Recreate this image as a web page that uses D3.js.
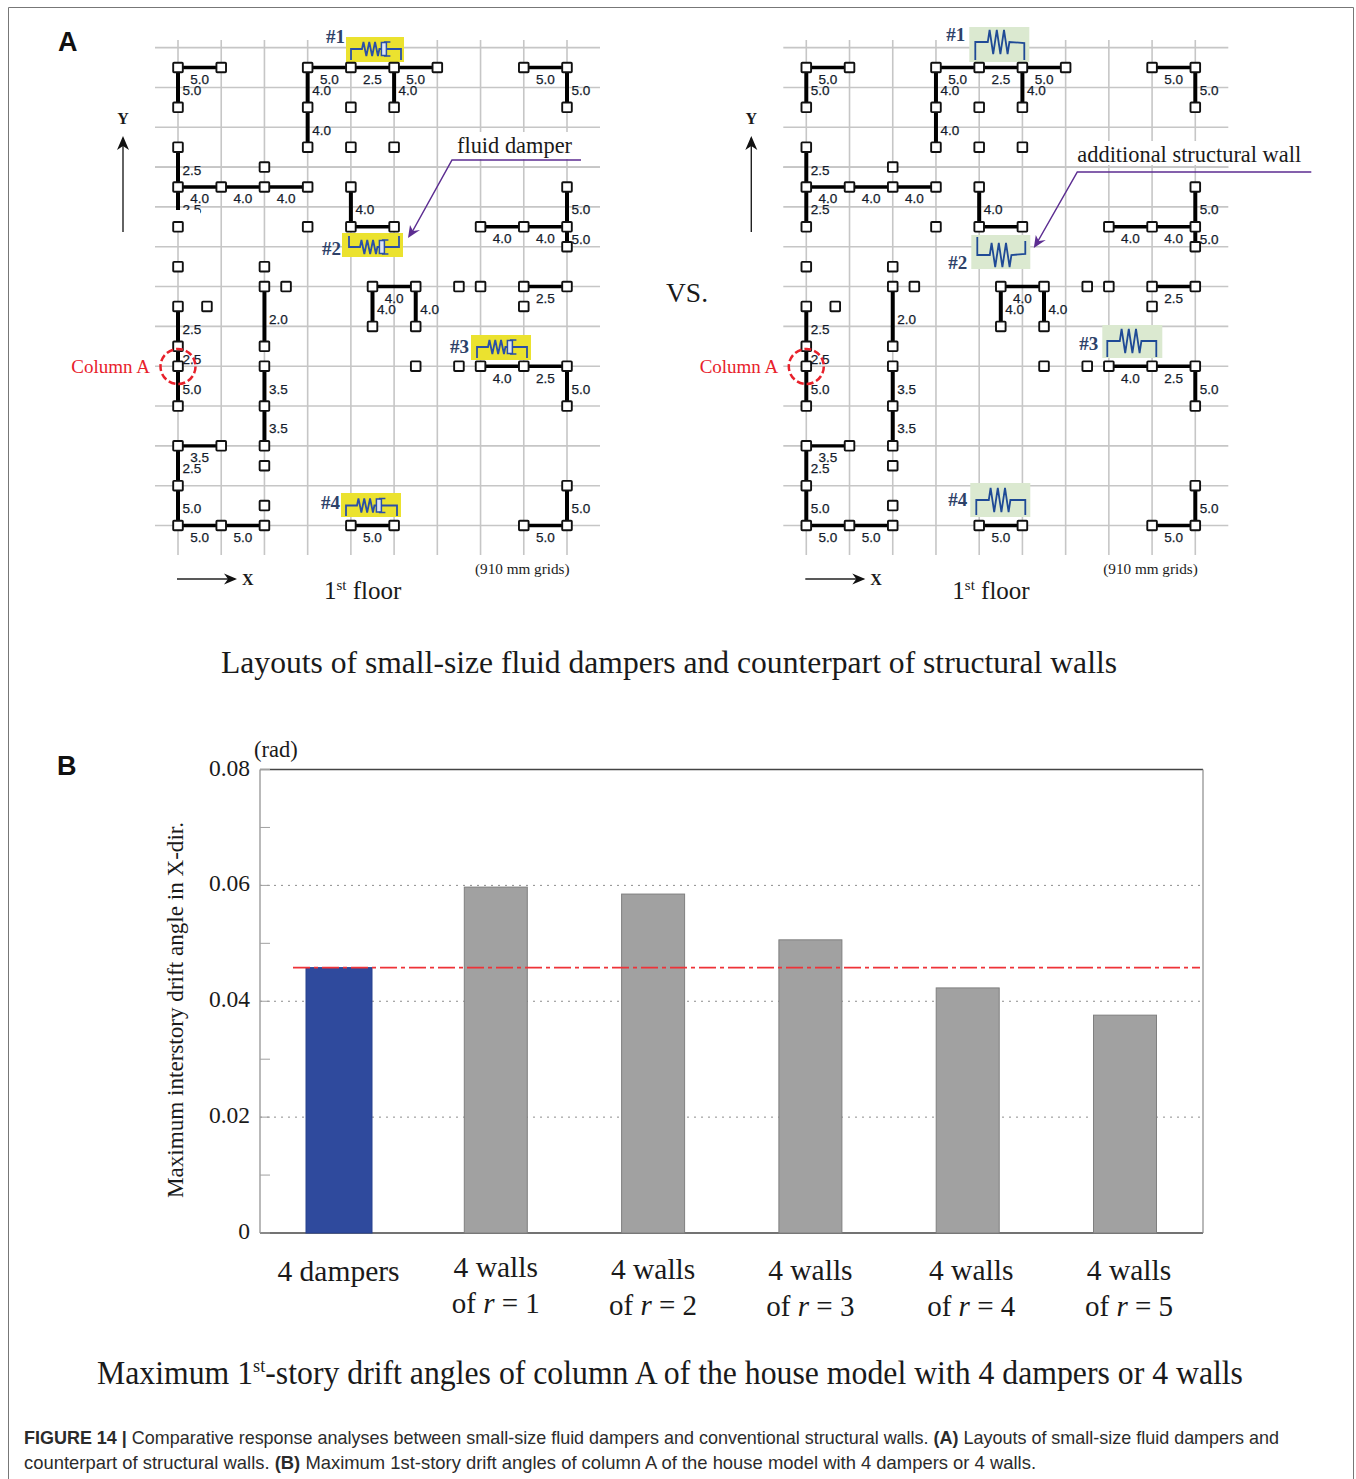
<!DOCTYPE html>
<html>
<head>
<meta charset="utf-8">
<script src="https://cdn.jsdelivr.net/npm/d3@7"></script>
<style>
body { margin: 0; background: #fff; }
svg { display: block; }
text { font-family: "Liberation Serif", serif; fill: #1a1a1a; }
</style>
</head>
<body>
<div id="chart"></div>
<script>
// bar chart values (panel B)
var categories = ["4 dampers", "of r = 1", "of r = 2", "of r = 3", "of r = 4", "of r = 5"];
var driftValues = [0.0458, 0.0597, 0.0585, 0.0506, 0.0423, 0.0376];
var referenceDrift = 0.0458;
var yTicksMajor = [0, 0.02, 0.04, 0.06, 0.08];
var yTickLabels = ["0", "0.02", "0.04", "0.06", "0.08"];
var yTicksMinor = [0.01, 0.03, 0.05, 0.07];

// floor plan (panel A), in grid units: column, row
var planColumns = d3.range(0, 10);
var planRows = d3.range(0, 13);
var planNodes = [
  [0,.5],[1,.5],[3,.5],[4,.5],[5,.5],[6,.5],[8,.5],[9,.5],
  [0,1.5],[3,1.5],[4,1.5],[5,1.5],[9,1.5],
  [0,2.5],[3,2.5],[4,2.5],[5,2.5],
  [2,3],
  [0,3.5],[1,3.5],[2,3.5],[3,3.5],[4,3.5],[9,3.5],
  [0,4.5],[3,4.5],[4,4.5],[5,4.5],[7,4.5],[8,4.5],[9,4.5],
  [9,5],
  [0,5.5],[2,5.5],
  [2,6],[2.5,6],[4.5,6],[5.5,6],[6.5,6],[7,6],[8,6],[9,6],
  [0,6.5],[0.67,6.5],[8,6.5],
  [4.5,7],[5.5,7],
  [0,7.5],[2,7.5],
  [0,8],[2,8],[5.5,8],[6.5,8],[7,8],[8,8],[9,8],
  [0,9],[2,9],[9,9],
  [0,10],[1,10],[2,10],
  [2,10.5],
  [0,11],[9,11],
  [2,11.5],
  [0,12],[1,12],[2,12],[4,12],[5,12],[8,12],[9,12]
];
// from column, from row, to column, to row, wall ratio
var planWalls = [
  [0,.5,1,.5,"5.0"],[0,.5,0,1.5,"5.0"],
  [3,.5,4,.5,"5.0"],[4,.5,5,.5,"2.5"],[5,.5,6,.5,"5.0"],
  [3,.5,3,1.5,"4.0"],[3,1.5,3,2.5,"4.0"],[5,.5,5,1.5,"4.0"],
  [8,.5,9,.5,"5.0"],[9,.5,9,1.5,"5.0"],
  [0,2.5,0,3.5,"2.5"],[0,3.5,0,4.5,"2.5"],
  [0,3.5,1,3.5,"4.0"],[1,3.5,2,3.5,"4.0"],[2,3.5,3,3.5,"4.0"],
  [4,3.5,4,4.5,"4.0"],[4,4.5,5,4.5,null],
  [9,3.5,9,4.5,"5.0"],[9,4.5,9,5,"5.0"],
  [7,4.5,8,4.5,"4.0"],[8,4.5,9,4.5,"4.0"],
  [4.5,6,5.5,6,"4.0"],[4.5,6,4.5,7,"4.0"],[5.5,6,5.5,7,"4.0"],
  [8,6,9,6,"2.5"],[2,6,2,7.5,"2.0"],
  [0,6.5,0,7.5,"2.5"],[0,7.5,0,8,"2.5"],[0,8,0,9,"5.0"],
  [2,8,2,9,"3.5"],[2,9,2,10,"3.5"],
  [0,10,1,10,"3.5"],[0,10,0,11,"2.5"],[0,11,0,12,"5.0"],
  [0,12,1,12,"5.0"],[1,12,2,12,"5.0"],
  [4,12,5,12,"5.0"],[8,12,9,12,"5.0"],[9,11,9,12,"5.0"],
  [7,8,8,8,"4.0"],[8,8,9,8,"2.5"],[9,8,9,9,"5.0"]
];

var svg = d3.select("#chart").append("svg")
  .attr("width", 1356)
  .attr("height", 1479);

// page frame
svg.append("path")
  .attr("d", "M8.5,1479V7.5H1353.5V1479")
  .attr("fill", "none")
  .attr("stroke", "#777")
  .attr("stroke-width", 1);

var serif = function(sel, x, y, txt, size, anchor) {
  return sel.append("text")
    .attr("x", x).attr("y", y)
    .attr("font-size", size)
    .attr("text-anchor", anchor || "start")
    .text(txt);
};

var sansBold = function(x, y, txt) {
  svg.append("text").attr("x", x).attr("y", y)
    .attr("font-size", 27)
    .style("font-family", "'Liberation Sans', sans-serif")
    .style("font-weight", "bold")
    .style("fill", "#111")
    .text(txt);
};
sansBold(58, 51, "A");
sansBold(57, 775, "B");

// ---------- panel A ----------
var colX = d3.scaleLinear().domain([0, 9]).range([178, 567]);
var rowY = d3.scaleLinear().domain([0, 12]).range([47.6, 525.5]);
var zigLine = d3.line();

// spring, optionally followed by a dashpot
var symbol = function(g, s, color, hasPot) {
  var x0 = s.left, x1 = s.right, y = s.y;
  g.append("rect")
    .attr("x", s.box[0]).attr("y", s.box[1])
    .attr("width", s.box[2]).attr("height", s.box[3])
    .attr("fill", hasPot ? "#ebe22f" : "#dbe9d0");
  var start = x0 + (hasPot ? 11 : 12.5);
  var amp = hasPot ? 7 : 12;
  var pitch = hasPot ? 2.9 : 3.6;
  var pts = [[x0, s.end], [x0, y], [start, y]];
  for (var i = 0; i < 6; i++) {
    pts.push([start + pitch * (i + 0.5), y + (i % 2 ? amp : -amp)]);
  }
  var zigEnd = start + pitch * 6;
  pts.push([zigEnd, y]);
  if (hasPot) {
    var potX = zigEnd + 2;
    pts.push([potX, y]);
    g.append("path").attr("d", zigLine(pts))
      .attr("fill", "none").attr("stroke", color).attr("stroke-width", 1.8);
    g.append("rect").attr("x", potX).attr("y", y - 6.5).attr("width", 5).attr("height", 13)
      .attr("fill", "#dfe6f5").attr("stroke", color).attr("stroke-width", 1.5);
    g.append("path")
      .attr("d", zigLine([[potX + 9, y - 7], [potX + 2.5, y - 7]]) + zigLine([[potX + 9, y + 7], [potX + 2.5, y + 7]]))
      .attr("fill", "none").attr("stroke", color).attr("stroke-width", 1.5);
    g.append("path").attr("d", zigLine([[potX + 5, y], [x1, y], [x1, s.end]]))
      .attr("fill", "none").attr("stroke", color).attr("stroke-width", 1.8);
  } else {
    pts.push([x1, y + (s.endRise || 0)], [x1, s.end2 === undefined ? s.end : s.end2]);
    g.append("path").attr("d", zigLine(pts))
      .attr("fill", "none").attr("stroke", color).attr("stroke-width", 1.8);
  }
  g.append("text").attr("x", s.tag[0]).attr("y", s.tag[1])
    .attr("font-size", 19)
    .style("font-weight", "bold")
    .style("fill", "#2d4168")
    .text(s.name);
};

var drawPlan = function(g, opts) {
  // grid
  g.selectAll(".gv").data(planColumns).enter().append("line")
    .attr("x1", function(d) { return colX(d); })
    .attr("x2", function(d) { return colX(d); })
    .attr("y1", 40).attr("y2", 555)
    .attr("stroke", "#c6c6c6").attr("stroke-width", 1.6);
  g.selectAll(".gh").data(planRows).enter().append("line")
    .attr("x1", 155).attr("x2", 600)
    .attr("y1", function(d) { return rowY(d); })
    .attr("y2", function(d) { return rowY(d); })
    .attr("stroke", "#c6c6c6").attr("stroke-width", 1.6);

  // white plate behind leader caption
  g.append("rect")
    .attr("x", opts.plate[0]).attr("y", opts.plate[1])
    .attr("width", opts.plate[2]).attr("height", opts.plate[3])
    .attr("fill", "#fff");
  g.append("line").attr("x1", 155).attr("x2", 600)
    .attr("y1", rowY(3)).attr("y2", rowY(3))
    .attr("stroke", "#c6c6c6").attr("stroke-width", 1.6);

  opts.symbols.forEach(function(s) { symbol(g, s, opts.symbolColor, opts.hasPot); });

  // walls
  g.selectAll(".wall").data(planWalls).enter().append("line")
    .attr("x1", function(d) { return colX(d[0]); })
    .attr("y1", function(d) { return rowY(d[1]); })
    .attr("x2", function(d) { return colX(d[2]); })
    .attr("y2", function(d) { return rowY(d[3]); })
    .attr("stroke", "#000")
    .attr("stroke-width", function(d) { return d[0] === d[2] ? 4 : 3.4; });

  // wall ratios
  g.selectAll(".ratio").data(planWalls.filter(function(d) { return d[4]; })).enter().append("text")
    .attr("x", function(d) {
      return d[0] === d[2] ? colX(d[0]) + 4.5 : (colX(d[0]) + colX(d[2])) / 2;
    })
    .attr("y", function(d) {
      return d[0] === d[2] ? (rowY(d[1]) + rowY(d[3])) / 2 + 7.5 : rowY(d[1]) + 16.5;
    })
    .attr("text-anchor", function(d) { return d[0] === d[2] ? "start" : "middle"; })
    .attr("font-size", 13.5)
    .style("font-family", "'Liberation Sans', sans-serif")
    .style("fill", "#141c2c")
    .style("stroke", "#141c2c")
    .style("stroke-width", 0.25)
    .text(function(d) { return d[4]; });

  if (opts.cutWall) {
    g.append("rect").attr("x", 170).attr("y", 210).attr("width", 30).attr("height", 11).attr("fill", "#fff");
  }

  // columns
  g.selectAll(".node").data(planNodes).enter().append("rect")
    .attr("x", function(d) { return colX(d[0]) - 4.8; })
    .attr("y", function(d) { return rowY(d[1]) - 4.8; })
    .attr("width", 9.6).attr("height", 9.6).attr("rx", 0.8)
    .attr("fill", "#fff").attr("stroke", "#111").attr("stroke-width", 1.9);

  // column A marker
  g.append("circle").attr("cx", 178).attr("cy", 366.5).attr("r", 17.5)
    .attr("fill", "none").attr("stroke", "#e8212b")
    .attr("stroke-width", 2.5).attr("stroke-dasharray", "7,3");
  serif(g, 150, 373, "Column A", 19, "end").style("fill", "#e8212b");

  // axis arrows
  g.append("line").attr("x1", 123).attr("x2", 123).attr("y1", 232).attr("y2", 138)
    .attr("stroke", "#222").attr("stroke-width", 1.4);
  g.append("path").attr("d", "M117,150L123,136L129,150L123,146Z").attr("fill", "#111");
  serif(g, 123, 124, "Y", 16, "middle").style("font-weight", "bold");
  g.append("line").attr("x1", 177).attr("x2", 235).attr("y1", 579).attr("y2", 579)
    .attr("stroke", "#222").attr("stroke-width", 1.4);
  g.append("path").attr("d", "M224,573.5L237,579L224,584.5L228,579Z").attr("fill", "#111");
  serif(g, 242, 585, "X", 16).style("font-weight", "bold");

  serif(g, 475, 574, "(910 mm grids)", 15.2);
  var fl = serif(g, 324, 599, "1", 25);
  fl.append("tspan").attr("font-size", 15).attr("dy", -9).text("st");
  fl.append("tspan").attr("dy", 9).text(" floor");

  // leader
  g.append("path").attr("d", zigLine(opts.leader))
    .attr("fill", "none").attr("stroke", "#5c2d91").attr("stroke-width", 1.5);
  g.append("path").attr("d", opts.arrow).attr("fill", "#5c2d91");
  serif(g, opts.caption[0], opts.caption[1], opts.caption[2], opts.caption[3]);
};

drawPlan(svg.append("g"), {
  hasPot: true,
  symbolColor: "#2a4fa8",
  cutWall: true,
  plate: [454, 132, 122, 27],
  leader: [[581, 160], [452, 160], [411, 234]],
  arrow: "M408,238L410,225L413,231L420,230Z",
  caption: [457, 153, "fluid damper", 22.4],
  symbols: [
    { name: "#1", tag: [326, 43], box: [346, 37, 58, 25], left: 351, right: 401, y: 49, end: 60 },
    { name: "#2", tag: [322, 255], box: [342, 233, 61, 24], left: 349, right: 399, y: 247, end: 236 },
    { name: "#3", tag: [450, 353], box: [471, 335, 60, 25], left: 477, right: 527, y: 347, end: 358 },
    { name: "#4", tag: [321, 509], box: [341, 493, 60, 24], left: 346, right: 397, y: 505.5, end: 516 }
  ]
});

drawPlan(svg.append("g").attr("transform", "translate(628.3,0)"), {
  hasPot: false,
  symbolColor: "#1f4a96",
  cutWall: false,
  plate: [448, 141, 140, 24],
  leader: [[683, 172], [449, 172], [408, 244]],
  arrow: "M405.5,248L407.5,235L410.5,241L417.5,240Z",
  caption: [449, 162, "additional structural wall", 22.4],
  symbols: [
    { name: "#1", tag: [318, 41], box: [341, 27, 60, 35], left: 347, right: 396, y: 42, endRise: 1, end: 60 },
    { name: "#2", tag: [320, 269], box: [343, 235, 59, 34], left: 349, right: 397, y: 255, endRise: -1, end: 237, end2: 241 },
    { name: "#3", tag: [451, 350], box: [474, 325, 60, 33], left: 479, right: 528, y: 341, end: 357 },
    { name: "#4", tag: [320, 506], box: [342, 483, 60, 34], left: 348, right: 397, y: 500, end: 515 }
  ]
});

serif(svg, 666, 302, "VS.", 27.5);

serif(svg, 221, 673, "Layouts of small-size fluid dampers and counterpart of structural walls", 32)
  .attr("textLength", 896)
  .attr("lengthAdjust", "spacingAndGlyphs");

// ---------- panel B ----------
var plot = { left: 260, right: 1203, top: 769.5, bottom: 1233 };
var y = d3.scaleLinear().domain([0, 0.08]).range([plot.bottom, plot.top]);
var x = d3.scalePoint().domain(categories).range([338.5, 1125]);

// dotted gridlines
svg.selectAll(".grid").data(yTicksMajor.slice(1, 4)).enter().append("line")
  .attr("x1", plot.left).attr("x2", plot.right)
  .attr("y1", function(d) { return y(d); })
  .attr("y2", function(d) { return y(d); })
  .attr("stroke", "#8c8c8c").attr("stroke-width", 1).attr("stroke-dasharray", "2,5");

// frame
svg.append("line").attr("x1", plot.left).attr("x2", plot.right).attr("y1", y(0.08)).attr("y2", y(0.08))
  .attr("stroke", "#444").attr("stroke-width", 1.3);
svg.append("line").attr("x1", plot.left).attr("x2", plot.right).attr("y1", y(0)).attr("y2", y(0))
  .attr("stroke", "#444").attr("stroke-width", 1.3);
svg.append("line").attr("x1", plot.left).attr("x2", plot.left).attr("y1", y(0.08)).attr("y2", y(0))
  .attr("stroke", "#8a8a8a").attr("stroke-width", 1.2);
svg.append("line").attr("x1", plot.right).attr("x2", plot.right).attr("y1", y(0.08)).attr("y2", y(0))
  .attr("stroke", "#8a8a8a").attr("stroke-width", 1.2);

// ticks
svg.selectAll(".tk").data(yTicksMajor.concat(yTicksMinor)).enter().append("line")
  .attr("x1", plot.left).attr("x2", plot.left + 10)
  .attr("y1", function(d) { return y(d); })
  .attr("y2", function(d) { return y(d); })
  .attr("stroke", "#a0a0a0").attr("stroke-width", 1);

svg.selectAll(".tl").data(yTicksMajor).enter().append("text")
  .attr("x", 250)
  .attr("y", function(d) { return y(d) + 6; })
  .attr("text-anchor", "end")
  .attr("font-size", 23.5)
  .text(function(d, i) { return yTickLabels[i]; });

serif(svg, 254, 757, "(rad)", 22.5);

svg.append("text")
  .attr("transform", "translate(183,1010) rotate(-90)")
  .attr("text-anchor", "middle")
  .attr("font-size", 23)
  .attr("textLength", 376)
  .attr("lengthAdjust", "spacingAndGlyphs")
  .text("Maximum interstory drift angle in X-dir.");

// bars
svg.selectAll(".bar").data(categories).enter().append("rect")
  .attr("x", function(d, i) { return x(d) - (i === 0 ? 32.5 : 31.5); })
  .attr("width", function(d, i) { return i === 0 ? 66 : 63; })
  .attr("y", function(d, i) { return y(driftValues[i]); })
  .attr("height", function(d, i) { return y(0) - y(driftValues[i]); })
  .attr("fill", function(d, i) { return i === 0 ? "#2f4a9d" : "#a1a1a1"; })
  .attr("stroke", function(d, i) { return i === 0 ? "#27408e" : "#7f7f7f"; })
  .attr("stroke-width", 1);

// reference level of the damper case
svg.append("line")
  .attr("x1", 293).attr("x2", 1200)
  .attr("y1", y(referenceDrift)).attr("y2", y(referenceDrift))
  .attr("stroke", "#ee3338").attr("stroke-width", 1.8)
  .attr("stroke-dasharray", "17,4,4,4");

// category labels
var labelNudge = [0, 0, 0, 0, 3.5, 4];
var labelDrop = [0, 0, 2, 3, 3, 3];
serif(svg, x(categories[0]), 1281, categories[0], 29.5, "middle");
categories.slice(1).forEach(function(c, i) {
  var cx = x(c) + labelNudge[i + 1];
  var base = 1277 + labelDrop[i + 1];
  serif(svg, cx, base, "4 walls", 29.5, "middle");
  var t = svg.append("text")
    .attr("x", cx).attr("y", base + 36)
    .attr("font-size", 29)
    .attr("text-anchor", "middle");
  t.append("tspan").text("of ");
  t.append("tspan").style("font-style", "italic").text("r");
  t.append("tspan").text(c.slice(4));
});

var title2 = serif(svg, 97, 1384, "Maximum 1", 33);
title2.append("tspan").attr("font-size", 19).attr("dy", -12).text("st");
title2.append("tspan").attr("dy", 12).text("-story drift angles of column A of the house model with 4 dampers or 4 walls");
title2.attr("textLength", 1146).attr("lengthAdjust", "spacingAndGlyphs");

// figure caption
var capLine = function(yPos, parts, len) {
  var t = svg.append("text")
    .attr("x", 24).attr("y", yPos)
    .attr("font-size", 19)
    .attr("textLength", len)
    .attr("lengthAdjust", "spacingAndGlyphs")
    .style("font-family", "'Liberation Sans', sans-serif")
    .style("fill", "#2b2b2b");
  parts.forEach(function(p) {
    t.append("tspan").style("font-weight", p[1] ? "bold" : "normal").text(p[0]);
  });
};
capLine(1444, [["FIGURE 14 | ", true], ["Comparative response analyses between small-size fluid dampers and conventional structural walls. ", false], ["(A)", true], [" Layouts of small-size fluid dampers and", false]], 1255);
capLine(1469, [["counterpart of structural walls. ", false], ["(B)", true], [" Maximum 1st-story drift angles of column A of the house model with 4 dampers or 4 walls.", false]], 1012);
</script>
</body>
</html>
